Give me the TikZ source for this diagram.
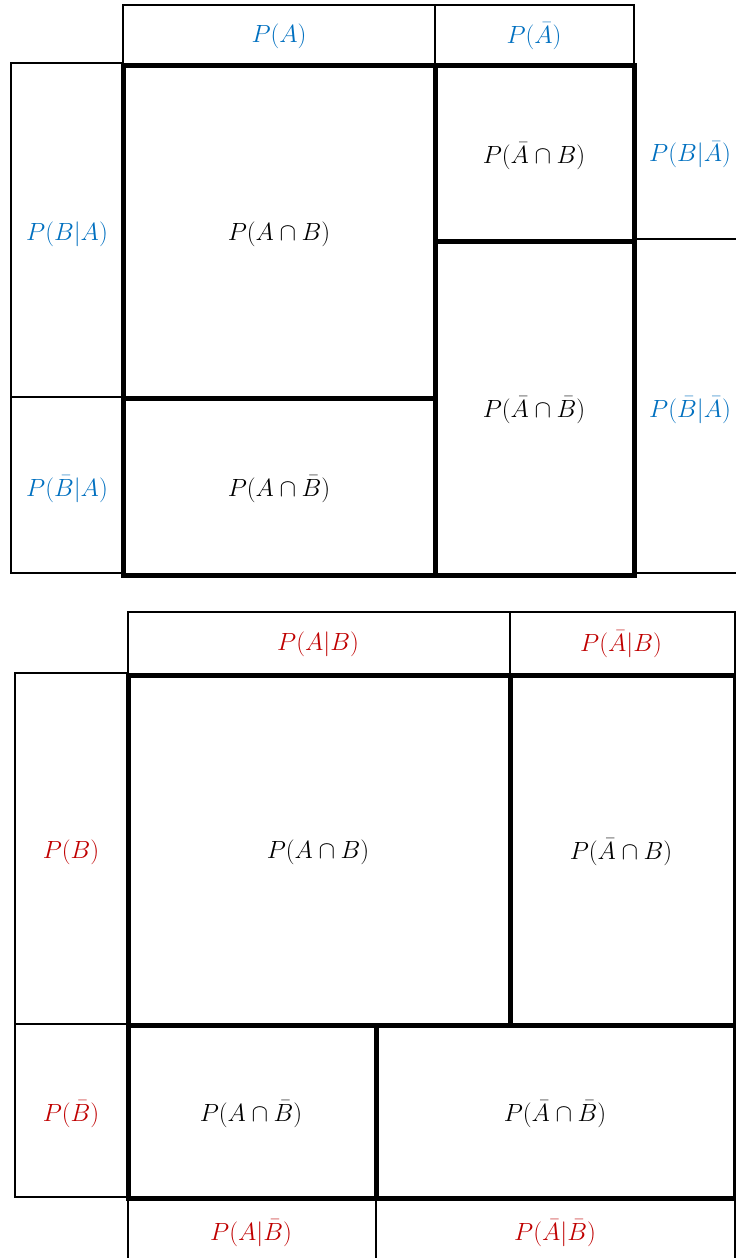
\documentclass[tikz,border=0pt]{standalone}
\usepackage{amsmath}
\definecolor{cblue}{RGB}{0,112,192}
\definecolor{cred}{RGB}{192,0,0}
\tikzset{
  thick line/.style={line width=5pt, line cap=rect},
  mid line/.style={line width=2.2pt},
  hdr line/.style={line width=1.6pt},
  thin line/.style={line width=1.2pt},
  lbl/.style={font=\fontsize{23}{27}\selectfont, inner sep=0pt},
  blbl/.style={lbl, text=cblue},
  rlbl/.style={lbl, text=cred},
  klbl/.style={lbl, text=black}
}
\begin{document}
\begin{tikzpicture}[x=1pt,y=-1pt]
\useasboundingbox (0,0) rectangle (736,1258);
\fill[white] (0,0) rectangle (736,1258);
% ---------- top diagram ----------
\draw[hdr line] (123,5) rectangle (435,65);
\draw[hdr line] (435,5) rectangle (634,65);
\draw[mid line] (11,63) rectangle (123,573);
\draw[mid line] (11,397) -- (123,397);
\draw[thin line] (634,239) -- (736,239);
\draw[thin line] (634,573) -- (736,573);
\draw[thick line] (123,65) rectangle (634,575);
\draw[thick line] (435,65) -- (435,575);
\draw[thick line] (123,398) -- (435,398);
\draw[thick line] (435,241) -- (634,241);
\node[blbl] (pa) at (279,36) {$P(A)$};
\node[blbl] (pna) at (534,36) {$P(\bar{A})$};
\node[blbl] (pbga) at (67,234) {$P(B|A)$};
\node[blbl] (pnbga) at (67,489) {$P(\bar{B}|A)$};
\node[klbl] (ab1) at (279,234) {$P(A\cap B)$};
\node[klbl] (nab1) at (534,156) {$P(\bar{A}\cap B)$};
\node[klbl] (anb1) at (279,489) {$P(A\cap \bar{B})$};
\node[klbl] (nanb1) at (534,410) {$P(\bar{A}\cap \bar{B})$};
\node[blbl] (pbgna) at (690,155) {$P(B|\bar{A})$};
\node[blbl] (pnbgna) at (690,410) {$P(\bar{B}|\bar{A})$};
% ---------- bottom diagram ----------
\draw[hdr line] (128,612) rectangle (510,675);
\draw[hdr line] (510,612) rectangle (735,675);
\draw[mid line] (15,673) rectangle (128,1197);
\draw[mid line] (15,1024) -- (128,1024);
\draw[thin line] (128,1198) -- (128,1258);
\draw[thin line] (376,1198) -- (376,1258);
\draw[thin line] (735,1198) -- (735,1258);
\draw[thick line] (128,675) rectangle (735,1198);
\draw[thick line] (510,675) -- (510,1025);
\draw[thick line] (128,1025) -- (735,1025);
\draw[thick line] (376,1025) -- (376,1198);
\node[rlbl] (pagb) at (318,644) {$P(A|B)$};
\node[rlbl] (pnagb) at (621,644) {$P(\bar{A}|B)$};
\node[rlbl] (pb) at (71,852) {$P(B)$};
\node[rlbl] (pnb) at (71,1114) {$P(\bar{B})$};
\node[klbl] (ab2) at (318,852) {$P(A\cap B)$};
\node[klbl] (nab2) at (621,852) {$P(\bar{A}\cap B)$};
\node[klbl] (anb2) at (251,1114) {$P(A\cap \bar{B})$};
\node[klbl] (nanb2) at (555,1114) {$P(\bar{A}\cap \bar{B})$};
\node[rlbl] (pagnb) at (251,1233) {$P(A|\bar{B})$};
\node[rlbl] (pnagnb) at (555,1233) {$P(\bar{A}|\bar{B})$};
\end{tikzpicture}
\end{document}
